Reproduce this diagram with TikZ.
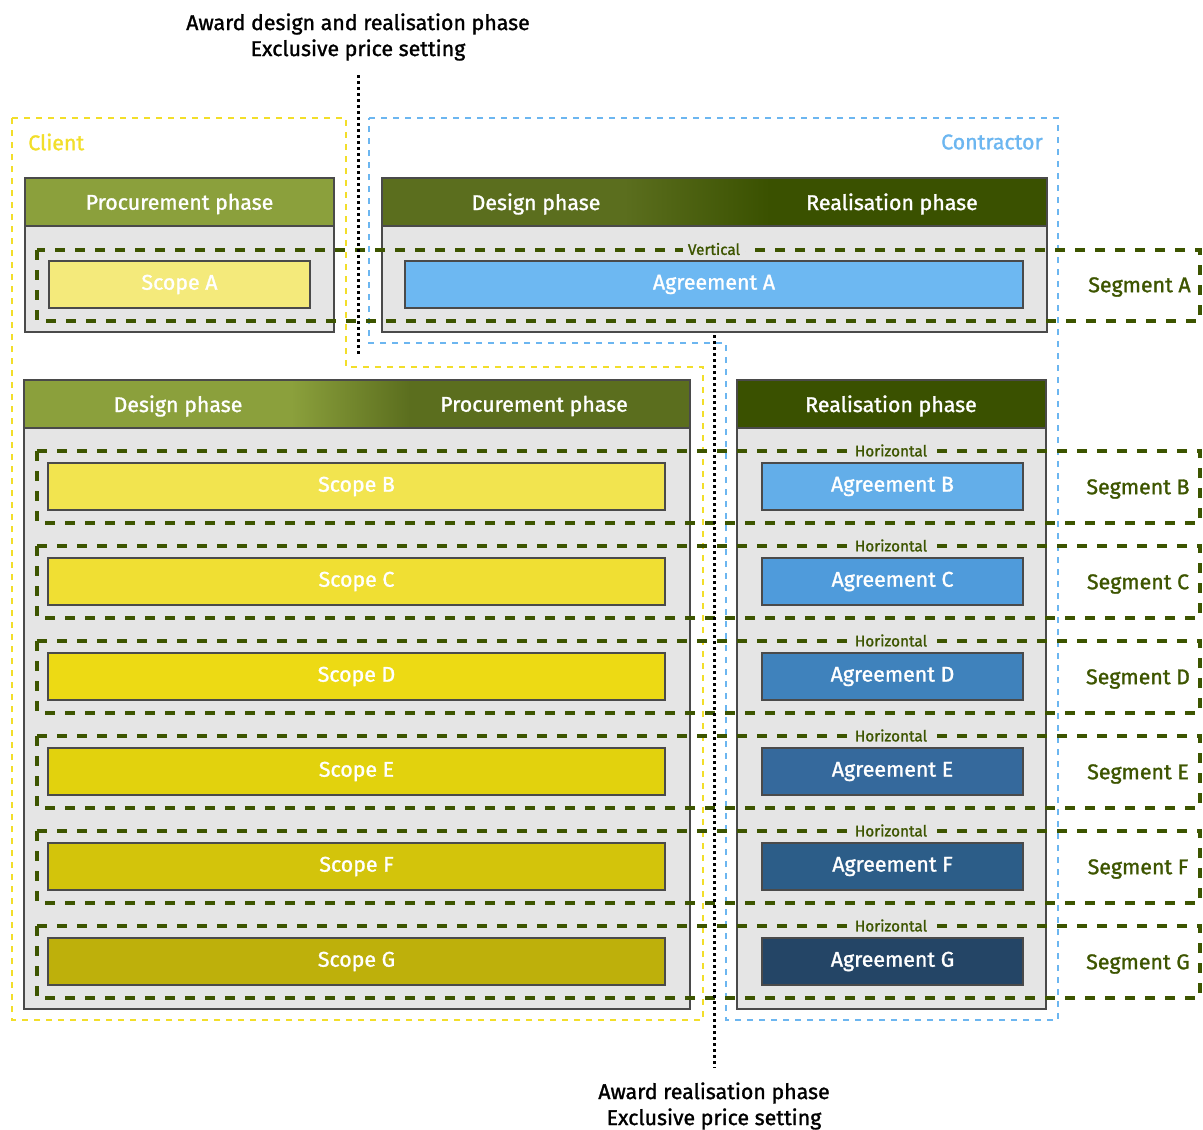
\documentclass[tikz,border=0pt]{standalone}
\usepackage{fontspec}
\setmainfont{Fira Sans}[FakeBold=1.3]
\definecolor{bodygray}{HTML}{E5E5E5}
\definecolor{edgegray}{HTML}{4A4A4A}
\definecolor{oliveA}{HTML}{8BA03C}
\definecolor{oliveB}{HTML}{5B6E1E}
\definecolor{oliveC}{HTML}{3A5100}
\definecolor{segcol}{HTML}{3D5500}
\definecolor{clientcol}{HTML}{F2DE2A}
\definecolor{contrcol}{HTML}{6CB6F0}
\definecolor{scA}{HTML}{F4EA7B}
\definecolor{scB}{HTML}{F2E44F}
\definecolor{scC}{HTML}{F0DF33}
\definecolor{scD}{HTML}{EDDA14}
\definecolor{scE}{HTML}{E2D20D}
\definecolor{scF}{HTML}{D3C40B}
\definecolor{scG}{HTML}{BEB00B}
\definecolor{agA}{HTML}{6DB8F2}
\definecolor{agB}{HTML}{63AEE9}
\definecolor{agC}{HTML}{4F9BDB}
\definecolor{agD}{HTML}{3F82BC}
\definecolor{agE}{HTML}{35699C}
\definecolor{agF}{HTML}{2C5D88}
\definecolor{agG}{HTML}{244566}
\begin{document}
\begin{tikzpicture}[x=0.75pt,y=-0.75pt,
  every node/.style={inner sep=0pt},
  tfont/.style={font=\fontsize{16}{19.5}\selectfont},
  txt/.style={tfont, yshift=-1.5pt},
  small/.style={font=\fontsize{11.5}{13}\selectfont, text=segcol},
  hdr/.style={txt, text=white},
  body/.style={fill=bodygray, draw=edgegray!80, line width=0.9pt},
  hline/.style={draw=edgegray, line width=0.9pt},
  box/.style={draw=edgegray, line width=1.1pt, minimum height=35.25pt, tfont, text=white},
  scopebox/.style={box, minimum width=462.75pt},
  agrbox/.style={box, minimum width=195.75pt},
  seg/.style={draw=segcol, line width=2.5pt, dash pattern=on 7.5pt off 7.5pt},
  seglabel/.style={txt, text=segcol},
  clientline/.style={draw=clientcol, line width=1.5pt, dash pattern=on 4.5pt off 4.5pt},
  contrline/.style={draw=contrcol, line width=1.5pt, dash pattern=on 4.5pt off 4.5pt},
  dotline/.style={draw=black, line width=2.25pt, dash pattern=on 2.25pt off 2.25pt}
]
\useasboundingbox (0,0) rectangle (1203,1129);

% client and contractor regions
\draw[clientline] (12,118) -- (346,118) -- (346,367) -- (703,367) -- (703,1020) -- (12,1020) -- cycle;
\draw[contrline] (369,118) -- (1058,118) -- (1058,1020) -- (726,1020) -- (726,343) -- (369,343) -- cycle;
\node[tfont, text=clientcol, anchor=west] (client) at (28,142) {Client};
\node[tfont, text=contrcol, anchor=east] (contractor) at (1043,142) {Contractor};

% top-left panel: procurement
\path[body] (25,178) rectangle (334,332);
\fill[oliveA] (25,178) rectangle (334,226);
\draw[hline] (25,178) rectangle (334,332) (25,226) -- (334,226);
\node[hdr] (h1) at (179.5,202) {Procurement phase};

% top-right panel: design and realisation
\path[body] (382,178) rectangle (1047,332);
\fill[oliveB] (382,178) rectangle (625,226);
\shade[left color=oliveB, right color=oliveC] (624,178) rectangle (770,226);
\fill[oliveC] (769,178) rectangle (1047,226);
\draw[hline] (382,178) rectangle (1047,332) (382,226) -- (1047,226);
\node[hdr] (h2) at (536,202) {Design phase};
\node[hdr] (h3) at (892,202) {Realisation phase};

% lower-left panel: design and procurement
\path[body] (24,380) rectangle (690,1009);
\fill[oliveA] (24,380) rectangle (292,428);
\shade[left color=oliveA, right color=oliveB] (291,380) rectangle (410,428);
\fill[oliveB] (409,380) rectangle (690,428);
\draw[hline] (24,380) rectangle (690,1009) (24,428) -- (690,428);
\node[hdr] (h4) at (178,404) {Design phase};
\node[hdr] (h5) at (534,404) {Procurement phase};

% lower-right panel: realisation
\path[body] (737,380) rectangle (1046,1009);
\fill[oliveC] (737,380) rectangle (1046,428);
\draw[hline] (737,380) rectangle (1046,1009) (737,428) -- (1046,428);
\node[hdr] (h6) at (891,404) {Realisation phase};

% segment A (vertical)
\node[box, minimum width=195.75pt, fill=scA] (scopeA) at (179.5,284.5) {Scope A};
\node[box, minimum width=463.5pt, fill=agA] (agrA) at (714,284.5) {Agreement A};
\draw[seg] (37,250) rectangle (1200,321);
\node[small, fill=bodygray, inner xsep=4pt, inner ysep=1pt] (vert) at (714,249) {Vertical};
\node[seglabel] (segA) at (1139.5,285) {Segment A};

% segments B to G (horizontal)
\foreach \l/\yc in {B/486.5, C/581.5, D/676.5, E/771.5, F/866.5, G/961.5} {
  \node[scopebox, fill=sc\l] (scope\l) at (356.5,\yc) {Scope \l};
  \node[agrbox, fill=ag\l] (agr\l) at (892.5,\yc) {Agreement \l};
  \draw[seg] (37,\yc-35.5) rectangle (1200,\yc+36.5);
  \node[small, fill=bodygray, inner xsep=4.5pt, inner ysep=1pt] (hor\l) at (891,\yc-36) {Horizontal};
  \node[seglabel] (seg\l) at (1138,\yc+0.5) {Segment \l};
}

% award moments
\node[txt, align=center] (award1) at (358,35) {Award design and realisation phase\\Exclusive price setting};
\coordinate (d1a) at (358,75);
\coordinate (d1b) at (358,355);
\draw[dotline] (d1a) -- (d1b);
\node[txt, align=center] (award2) at (714,1104) {Award realisation phase\\Exclusive price setting};
\coordinate (d2a) at (714,335);
\coordinate (d2b) at (714,1068);
\draw[dotline] (d2a) -- (d2b);
\end{tikzpicture}
\end{document}
